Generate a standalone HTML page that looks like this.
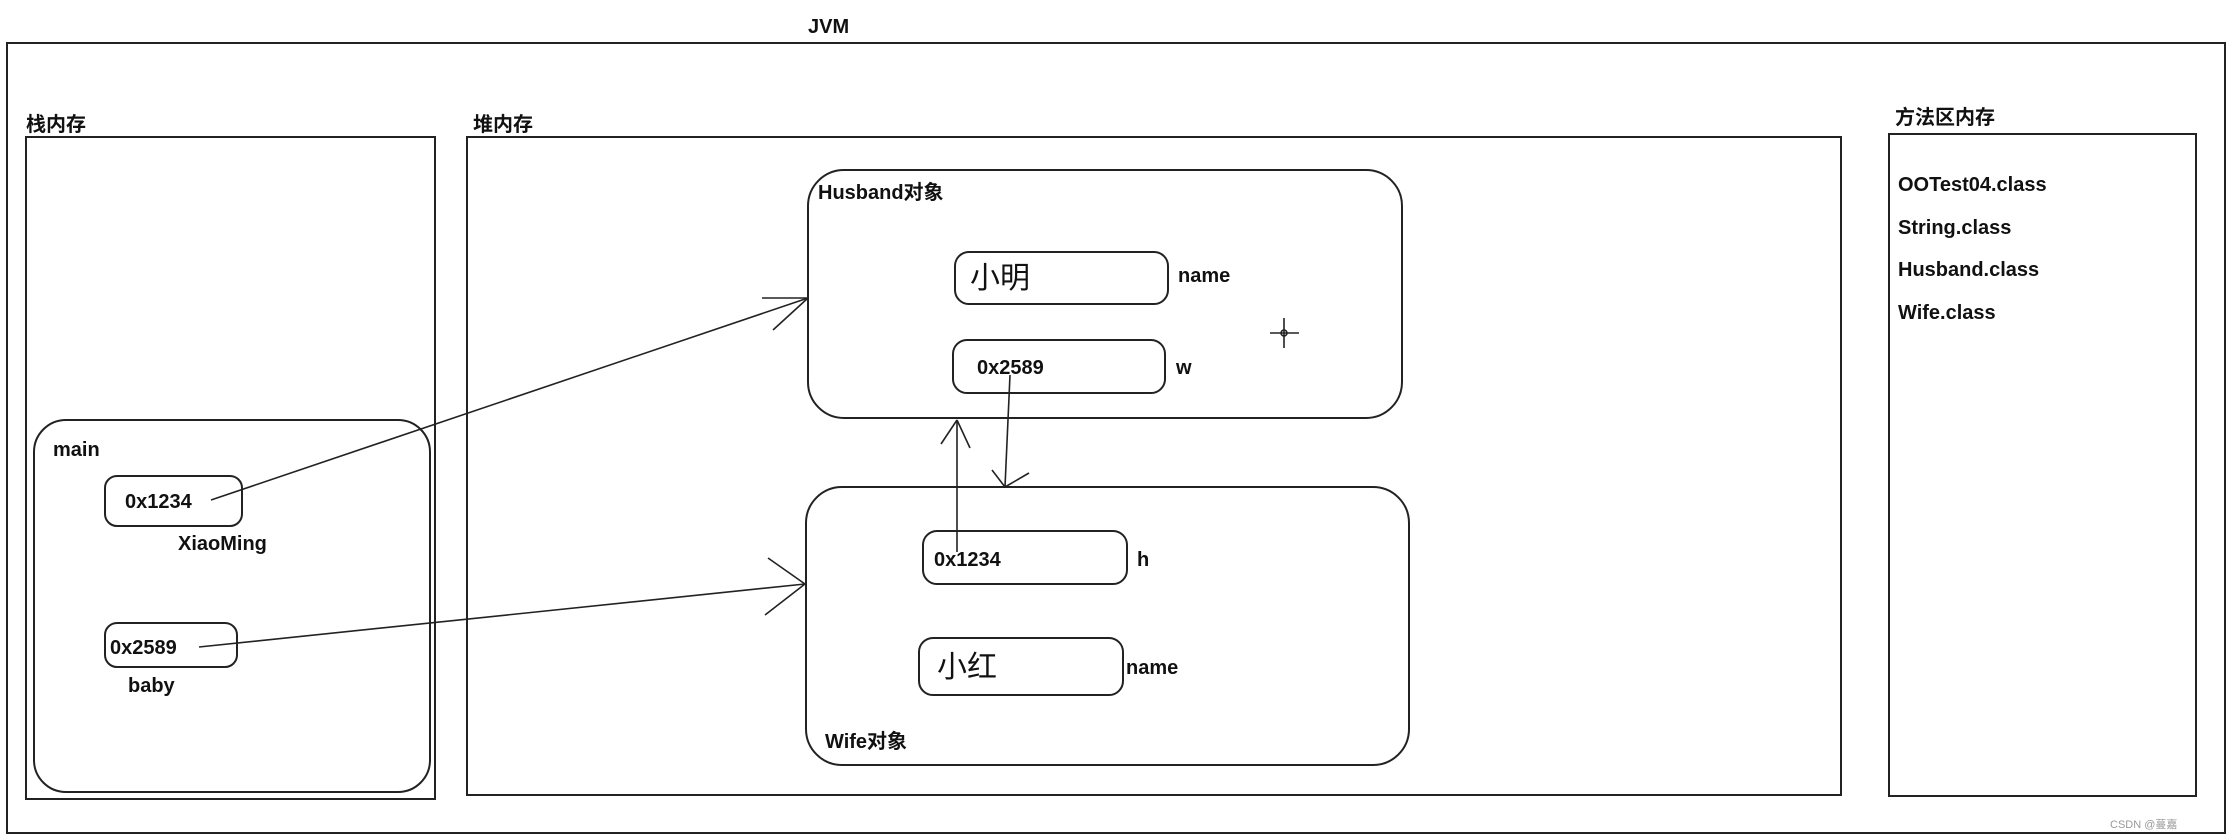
<!DOCTYPE html>
<html><head><meta charset="utf-8"><style>
html,body{margin:0;padding:0;background:#fff;}
body{width:2234px;height:840px;position:relative;overflow:hidden;font-family:"Liberation Sans","Noto Sans CJK SC",sans-serif;}
svg{position:absolute;left:0;top:0;}
text{font-family:"Liberation Sans","Noto Sans CJK SC",sans-serif;font-weight:bold;font-size:20px;fill:#111;}
.big{font-weight:normal;font-size:30px;}
</style></head><body>
<svg width="2234" height="840" viewBox="0 0 2234 840">
<g fill="none" stroke="#222" stroke-width="2">
<rect x="7" y="43" width="2218" height="790"/>
<rect x="26" y="137" width="409" height="662"/>
<rect x="34" y="420" width="396" height="372" rx="32"/>
<rect x="105" y="476" width="137" height="50" rx="12"/>
<rect x="105" y="623" width="132" height="44" rx="12"/>
<rect x="467" y="137" width="1374" height="658"/>
<rect x="808" y="170" width="594" height="248" rx="36"/>
<rect x="955" y="252" width="213" height="52" rx="14"/>
<rect x="953" y="340" width="212" height="53" rx="14"/>
<rect x="806" y="487" width="603" height="278" rx="36"/>
<rect x="923" y="531" width="204" height="53" rx="14"/>
<rect x="919" y="638" width="204" height="57" rx="14"/>
<rect x="1889" y="134" width="307" height="662"/>
</g>
<g fill="none" stroke="#222" stroke-width="1.6">
<line x1="211" y1="500" x2="808" y2="298"/>
<line x1="808" y1="298" x2="762" y2="298"/>
<line x1="808" y1="298" x2="773" y2="330"/>
<line x1="199" y1="647" x2="805" y2="584"/>
<line x1="805" y1="584" x2="768" y2="558"/>
<line x1="805" y1="584" x2="765" y2="615"/>
<line x1="1010" y1="375" x2="1005" y2="487"/>
<line x1="1005" y1="487" x2="992" y2="470"/>
<line x1="1005" y1="487" x2="1029" y2="473"/>
<line x1="957" y1="552" x2="957" y2="420"/>
<line x1="957" y1="420" x2="941" y2="444"/>
<line x1="957" y1="420" x2="970" y2="448"/>
<line x1="1284" y1="318" x2="1284" y2="348"/>
<line x1="1270" y1="333" x2="1299" y2="333"/>
<circle cx="1284" cy="333" r="3"/>
</g>
<text x="808" y="33">JVM</text>
<text x="26" y="131">栈内存</text>
<text x="473" y="131">堆内存</text>
<text x="1895" y="124">方法区内存</text>
<text x="53" y="456">main</text>
<text x="125" y="508">0x1234</text>
<text x="178" y="550">XiaoMing</text>
<text x="110" y="654">0x2589</text>
<text x="128" y="692">baby</text>
<text x="818" y="199">Husband对象</text>
<text class="big" x="970" y="288">小明</text>
<text x="1178" y="282">name</text>
<text x="977" y="374">0x2589</text>
<text x="1176" y="374">w</text>
<text x="934" y="566">0x1234</text>
<text x="1137" y="566">h</text>
<text class="big" x="937" y="677">小红</text>
<text x="1126" y="674">name</text>
<text x="825" y="748">Wife对象</text>
<text x="1898" y="191">OOTest04.class</text>
<text x="1898" y="234">String.class</text>
<text x="1898" y="276">Husband.class</text>
<text x="1898" y="319">Wife.class</text>
<text x="2110" y="828" style="font-size:11px;font-weight:normal;fill:#999">CSDN @蔓嘉</text>
</svg>
</body></html>
